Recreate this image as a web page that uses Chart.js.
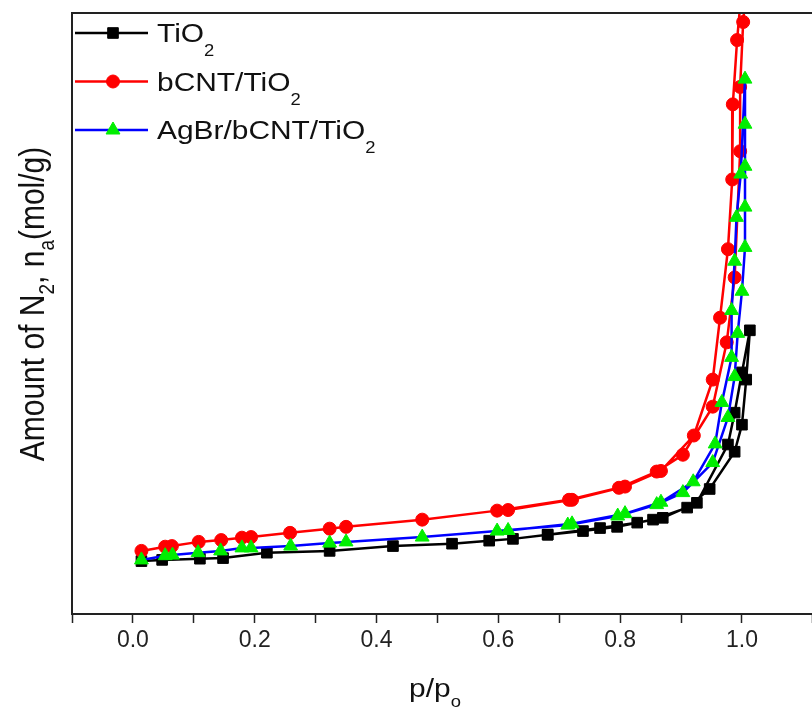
<!DOCTYPE html>
<html>
<head>
<meta charset="utf-8">
<script src="https://cdn.jsdelivr.net/npm/chart.js@4"></script>
<style>
  html, body { margin: 0; padding: 0; background: #fff; }
  canvas { display: block; }
</style>
</head>
<body>
<canvas id="chart" width="812" height="713"></canvas>
<script>
// relative pressure p/p0 and adsorbed amount (arbitrary units, no y ticks in the figure)
// each series: adsorption branch up, then desorption branch back down
const tio2P = [0.014, 0.048, 0.110, 0.148, 0.220, 0.323, 0.427, 0.524, 0.585, 0.624, 0.681, 0.739, 0.795, 0.854, 0.910, 0.947, 0.988, 1.0, 1.007, 1.013,
  1.0, 0.988, 0.977, 0.926, 0.870, 0.828, 0.767, 0.681];
const tio2N = [8.8, 9.0, 9.2, 9.3, 10.2, 10.5, 11.3, 11.7, 12.2, 12.5, 13.2, 13.8, 14.5, 15.7, 17.7, 20.8, 27.0, 31.5, 39.0, 47.2,
  40.2, 33.5, 28.2, 18.5, 16.0, 15.2, 14.3, 13.2];

const bcntP = [0.014, 0.053, 0.064, 0.108, 0.145, 0.179, 0.194, 0.258, 0.323, 0.350, 0.475, 0.598, 0.716, 0.798, 0.860, 0.903, 0.952, 0.975, 0.988, 0.997, 0.997, 1.002, 1.003,
  0.992, 0.985, 0.984, 0.977, 0.964, 0.952, 0.921, 0.867, 0.808, 0.721, 0.616];
const bcntN = [10.5, 11.2, 11.3, 12.0, 12.3, 12.7, 12.8, 13.5, 14.2, 14.5, 15.7, 17.2, 19.0, 21.0, 23.7, 26.5, 34.5, 45.2, 56.0, 77.0, 87.7, 98.5, 108,
  95.5, 84.8, 72.3, 60.7, 49.3, 39.0, 29.7, 23.8, 21.2, 19.0, 17.3];

const agbrP = [0.014, 0.053, 0.065, 0.107, 0.144, 0.179, 0.194, 0.259, 0.323, 0.350, 0.475, 0.598, 0.714, 0.796, 0.860, 0.903, 0.952, 0.977, 0.988, 0.993, 1.0, 1.005, 1.005, 1.005, 1.005, 1.005,
  0.998, 0.991, 0.988, 0.983, 0.983, 0.967, 0.956, 0.920, 0.867, 0.808, 0.721, 0.616];
const agbrN = [9.0, 9.7, 9.8, 10.2, 10.5, 11.0, 11.0, 11.3, 11.8, 12.0, 12.8, 13.8, 14.8, 16.3, 18.2, 20.2, 25.2, 32.7, 39.5, 46.7, 53.7, 61.0, 67.7, 74.5, 81.5, 89.0,
  73.2, 66.0, 58.7, 50.5, 42.7, 35.2, 28.3, 22.0, 18.6, 16.7, 15.0, 13.9];

const xTicks = [0.0, 0.2, 0.4, 0.6, 0.8, 1.0];

const FONT = "'Liberation Sans', Arial, sans-serif";
const STRETCH = 1.15;

function toPoints(xs, ys) {
  return xs.map((x, i) => ({ x: x, y: ys[i] }));
}

// text pieces with subscripts, e.g. [["TiO"], ["2", true]]
function richWidth(ctx, parts, size) {
  let w = 0;
  parts.forEach(([t, sub]) => {
    ctx.font = (sub ? Math.round(size * 0.62) : size) + "px " + FONT;
    w += ctx.measureText(t).width;
  });
  return w;
}

function drawRich(ctx, parts, size, subDrop) {
  let x = 0;
  parts.forEach(([t, sub]) => {
    ctx.font = (sub ? Math.round(size * 0.62) : size) + "px " + FONT;
    ctx.fillText(t, x, sub ? subDrop : 0);
    x += ctx.measureText(t).width;
  });
}

const legendItems = [
  { parts: [["TiO"], ["2", true]], line: "#000", fill: "#000", style: "rect", r: 7.5 },
  { parts: [["bCNT/TiO"], ["2", true]], line: "#ff0000", fill: "#ff0000", style: "circle", r: 6.5 },
  { parts: [["AgBr/bCNT/TiO"], ["2", true]], line: "#0000ff", fill: "#00ee00", style: "triangle", r: 8 },
];

const extras = {
  id: "extras",
  afterDraw(chart) {
    const ctx = chart.ctx;
    const a = chart.chartArea;
    ctx.save();

    // top frame line
    ctx.strokeStyle = "#222";
    ctx.lineWidth = 2;
    ctx.beginPath();
    ctx.moveTo(a.left, a.top);
    ctx.lineTo(chart.width, a.top);
    ctx.stroke();

    // legend
    legendItems.forEach((it, i) => {
      const y = 33 + i * 48.5;
      ctx.strokeStyle = it.line;
      ctx.lineWidth = 2.5;
      ctx.beginPath();
      ctx.moveTo(75, y);
      ctx.lineTo(148, y);
      ctx.stroke();
      ctx.fillStyle = it.fill;
      ctx.strokeStyle = it.fill;
      ctx.lineWidth = 1;
      Chart.helpers.drawPoint(ctx, { pointStyle: it.style, radius: it.r, rotation: 0, borderWidth: 1 }, 113, y);
      ctx.save();
      ctx.fillStyle = "#111";
      ctx.textBaseline = "alphabetic";
      ctx.translate(157, y + 9);
      ctx.scale(STRETCH, 1);
      drawRich(ctx, it.parts, 26, 14);
      ctx.restore();
    });

    // x title
    const xt = [["p/p"], ["o", true]];
    ctx.save();
    ctx.fillStyle = "#111";
    const xw = richWidth(ctx, xt, 26) * STRETCH;
    ctx.translate(435 - xw / 2, 697);
    ctx.scale(STRETCH, 1);
    drawRich(ctx, xt, 26, 10);
    ctx.restore();

    // y title
    const yt = [["Amount of N"], ["2", true], [", n"], ["a", true], ["(mol/g)"]];
    ctx.save();
    ctx.fillStyle = "#111";
    const yw = richWidth(ctx, yt, 30);
    ctx.translate(44, 304);
    ctx.rotate(-Math.PI / 2);
    ctx.scale(1, STRETCH);
    ctx.translate(-yw / 2, 0);
    drawRich(ctx, yt, 30, 9);
    ctx.restore();

    ctx.restore();
  },
};

const canvas = document.getElementById("chart");
const ctx = canvas.getContext("2d");

new Chart(ctx, {
  type: "scatter",
  data: {
    datasets: [
      {
        label: "TiO2",
        data: toPoints(tio2P, tio2N),
        showLine: true,
        borderColor: "#000",
        backgroundColor: "#000",
        borderWidth: 2.5,
        pointStyle: "rect",
        pointRadius: 7.5,
        pointBackgroundColor: "#000",
        pointBorderColor: "#000",
        pointBorderWidth: 1,
        order: 3,
      },
      {
        label: "bCNT/TiO2",
        data: toPoints(bcntP, bcntN),
        showLine: true,
        borderColor: "#ff0000",
        backgroundColor: "#ff0000",
        borderWidth: 2.5,
        pointStyle: "circle",
        pointRadius: 6.5,
        pointBackgroundColor: "#ff0000",
        pointBorderColor: "#ff0000",
        pointBorderWidth: 1,
        order: 2,
      },
      {
        label: "AgBr/bCNT/TiO2",
        data: toPoints(agbrP, agbrN),
        showLine: true,
        borderColor: "#0000ff",
        backgroundColor: "#00ee00",
        borderWidth: 2.5,
        pointStyle: "triangle",
        pointRadius: 8,
        pointBackgroundColor: "#00ee00",
        pointBorderColor: "#00ee00",
        pointBorderWidth: 1,
        order: 1,
      },
    ],
  },
  options: {
    responsive: false,
    devicePixelRatio: 1,
    animation: false,
    layout: { autoPadding: false, padding: { top: 13, right: 0, bottom: 0, left: 0 } },
    plugins: {
      legend: { display: false },
      tooltip: { enabled: false },
    },
    scales: {
      x: {
        type: "linear",
        min: -0.1,
        max: 1.115,
        afterFit: (s) => {
          s.height = 99;
          s.paddingLeft = 0;
          s.paddingRight = 0;
        },
        border: { display: true, color: "#222", width: 2 },
        grid: {
          display: true,
          drawOnChartArea: false,
          drawTicks: true,
          tickLength: 9,
          tickColor: "#222",
          tickWidth: 1.5,
        },
        ticks: {
          stepSize: 0.1,
          autoSkip: false,
          maxRotation: 0,
          color: "#222",
          padding: 4,
          font: { family: FONT, size: 23 },
          callback: (v) => {
            const hit = xTicks.find((t) => Math.abs(t - v) < 1e-6);
            return hit === undefined ? "" : hit.toFixed(1);
          },
        },
      },
      y: {
        type: "linear",
        min: 0,
        max: 100,
        afterFit: (s) => {
          s.width = 72;
          s.paddingTop = 0;
          s.paddingBottom = 0;
        },
        border: { display: true, color: "#222", width: 2 },
        grid: { display: false, drawTicks: false },
        ticks: { display: false },
      },
    },
  },
  plugins: [extras],
});
</script>
</body>
</html>
